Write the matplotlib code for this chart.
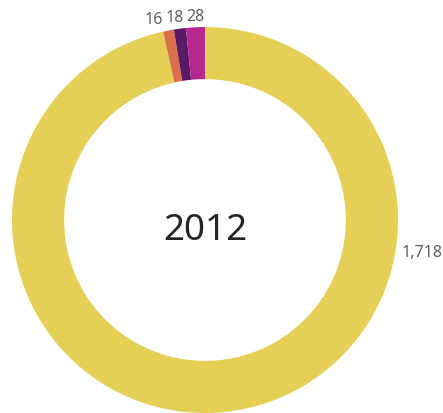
import numpy as np
import matplotlib
matplotlib.use("Agg")
import matplotlib.pyplot as plt

categories = ["A", "B", "C", "D"]
values = [1718, 16, 18, 28]
labels = ["1,718", "16", "18", "28"]
colors = ["#E6CF57", "#D9704B", "#5B1A66", "#B7298F"]
center_text = "2012"

W, H = 443, 414
fig = plt.figure(figsize=(W / 100, H / 100), dpi=100)
ax = fig.add_axes([0, 0, 1, 1])

cx, cy, R = 205, 221, 193

wedges, _ = ax.pie(values, colors=colors, startangle=90, counterclock=False,
                   radius=1.0, wedgeprops=dict(width=0.27, linewidth=0))
ax.set_xlim((0 - cx) / R, (W - cx) / R)
ax.set_ylim((cy - H) / R, (cy - 0) / R)
ax.set_aspect("auto")
ax.axis("off")

font = "Noto Sans"
total = sum(values)
fracs = np.array(values) / total
mids = (np.cumsum(fracs) - fracs / 2) * 360.0  # clockwise from top, degrees

# big slice label on the right side
ang = np.deg2rad(99.2)
r = 1.034
ax.text(r * np.sin(ang), r * np.cos(ang), labels[0], ha="left", va="center",
        fontsize=11.5, color="#605E5C", family=font)

# small slice labels near the top, spread to avoid overlap
r = 1.06
pos = []
for i in range(1, len(values)):
    a = np.deg2rad(mids[i])
    pos.append([r * np.sin(a), r * np.cos(a)])
gap = 20.5 / R
for k in range(len(pos) - 2, -1, -1):
    if pos[k][0] > pos[k + 1][0] - gap:
        pos[k][0] = pos[k + 1][0] - gap
for k, i in enumerate(range(1, len(values))):
    ax.text(pos[k][0], pos[k][1], labels[i], ha="center", va="center",
            fontsize=11.5, color="#605E5C", family=font)

ax.text(0, (cy - 231) / R, center_text, ha="center", va="center",
        fontsize=26.5, color="#252423", family=font)

fig.savefig("out.png", dpi=100)
